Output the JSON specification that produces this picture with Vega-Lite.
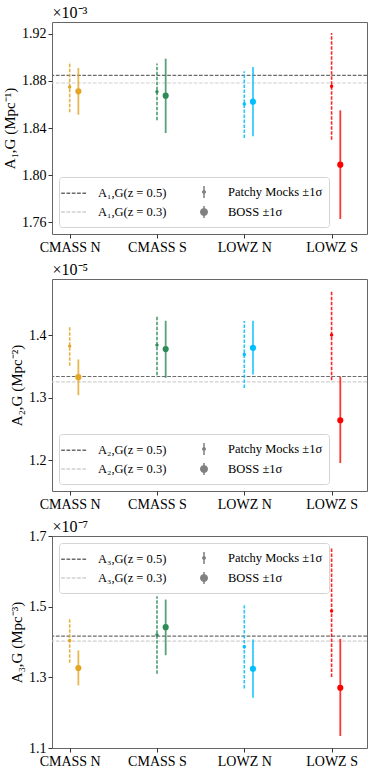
{
  "$schema": "https://vega.github.io/schema/vega-lite/v6.json",
  "padding": {"left": 2, "top": 3, "right": 5, "bottom": 0},
  "spacing": 5,
  "datasets": {
    "errs": [
      {"panel": 1, "region": "CMASS N", "kind": "mock", "value": 1.8749, "lo": 1.8533, "hi": 1.8962},
      {"panel": 1, "region": "CMASS N", "kind": "boss", "value": 1.8712, "lo": 1.8513, "hi": 1.8911},
      {"panel": 1, "region": "CMASS S", "kind": "mock", "value": 1.8709, "lo": 1.8465, "hi": 1.8948},
      {"panel": 1, "region": "CMASS S", "kind": "boss", "value": 1.8675, "lo": 1.8357, "hi": 1.899},
      {"panel": 1, "region": "LOWZ N", "kind": "mock", "value": 1.8604, "lo": 1.8315, "hi": 1.8882},
      {"panel": 1, "region": "LOWZ N", "kind": "boss", "value": 1.8624, "lo": 1.8329, "hi": 1.8919},
      {"panel": 1, "region": "LOWZ S", "kind": "mock", "value": 1.8755, "lo": 1.8301, "hi": 1.9209},
      {"panel": 1, "region": "LOWZ S", "kind": "boss", "value": 1.8088, "lo": 1.7626, "hi": 1.855},
      {"panel": 2, "region": "CMASS N", "kind": "mock", "value": 1.3824, "lo": 1.3509, "hi": 1.4133},
      {"panel": 2, "region": "CMASS N", "kind": "boss", "value": 1.3328, "lo": 1.304, "hi": 1.3611},
      {"panel": 2, "region": "CMASS S", "kind": "mock", "value": 1.384, "lo": 1.336, "hi": 1.4304},
      {"panel": 2, "region": "CMASS S", "kind": "boss", "value": 1.3776, "lo": 1.3317, "hi": 1.4229},
      {"panel": 2, "region": "LOWZ N", "kind": "mock", "value": 1.369, "lo": 1.3157, "hi": 1.4224},
      {"panel": 2, "region": "LOWZ N", "kind": "boss", "value": 1.3797, "lo": 1.337, "hi": 1.4229},
      {"panel": 2, "region": "LOWZ S", "kind": "mock", "value": 1.4, "lo": 1.328, "hi": 1.4693},
      {"panel": 2, "region": "LOWZ S", "kind": "boss", "value": 1.264, "lo": 1.1957, "hi": 1.3333},
      {"panel": 3, "region": "CMASS N", "kind": "mock", "value": 1.4042, "lo": 1.3412, "hi": 1.4664},
      {"panel": 3, "region": "CMASS N", "kind": "boss", "value": 1.3261, "lo": 1.2772, "hi": 1.376},
      {"panel": 3, "region": "CMASS S", "kind": "mock", "value": 1.4202, "lo": 1.3101, "hi": 1.5294},
      {"panel": 3, "region": "CMASS S", "kind": "boss", "value": 1.4419, "lo": 1.3628, "hi": 1.52},
      {"panel": 3, "region": "LOWZ N", "kind": "mock", "value": 1.3864, "lo": 1.2687, "hi": 1.504},
      {"panel": 3, "region": "LOWZ N", "kind": "boss", "value": 1.3242, "lo": 1.2424, "hi": 1.4071},
      {"panel": 3, "region": "LOWZ S", "kind": "mock", "value": 1.488, "lo": 1.3007, "hi": 1.6678},
      {"panel": 3, "region": "LOWZ S", "kind": "boss", "value": 1.2706, "lo": 1.1341, "hi": 1.4089}
    ],
    "zlines": [
      {"panel": 1, "z": "0.5", "value": 1.8848},
      {"panel": 1, "z": "0.3", "value": 1.8783},
      {"panel": 2, "z": "0.5", "value": 1.3339},
      {"panel": 2, "z": "0.3", "value": 1.3253},
      {"panel": 3, "z": "0.5", "value": 1.4165},
      {"panel": 3, "z": "0.3", "value": 1.4024}
    ],
    "legend": [
      {"panel": 1, "leg": "A₁,G(z = 0.5)"},
      {"panel": 1, "leg": "A₁,G(z = 0.3)"},
      {"panel": 1, "leg": "Patchy Mocks ±1σ"},
      {"panel": 1, "leg": "BOSS ±1σ"},
      {"panel": 2, "leg": "A₂,G(z = 0.5)"},
      {"panel": 2, "leg": "A₂,G(z = 0.3)"},
      {"panel": 2, "leg": "Patchy Mocks ±1σ"},
      {"panel": 2, "leg": "BOSS ±1σ"},
      {"panel": 3, "leg": "A₃,G(z = 0.5)"},
      {"panel": 3, "leg": "A₃,G(z = 0.3)"},
      {"panel": 3, "leg": "Patchy Mocks ±1σ"},
      {"panel": 3, "leg": "BOSS ±1σ"}
    ]
  },
  "vconcat": [
    {
      "width": 315, "height": 212,
      "resolve": {"axis": {"x": "independent"}},
      "layer": [
        {"data": {"name": "zlines"}, "transform": [{"filter": "datum.panel == 1 && datum.z == '0.5'"}],
         "mark": {"type": "rule", "color": "#6b6b6b", "strokeDash": [3.7, 1.6], "strokeWidth": 1.1},
         "encoding": {"y": {"field": "value", "type": "quantitative", "title": "A₁,G (Mpc⁻¹)",
           "scale": {"domain": [1.7498, 1.9302], "nice": false, "zero": false},
           "axis": {"values": [1.76, 1.8, 1.84, 1.88, 1.92], "format": ".2f"}}}},
        {"data": {"name": "zlines"}, "transform": [{"filter": "datum.panel == 1 && datum.z == '0.3'"}],
         "mark": {"type": "rule", "color": "#cfcfcf", "strokeDash": [3.7, 1.6], "strokeWidth": 1.1},
         "encoding": {"y": {"field": "value", "type": "quantitative", "title": "A₁,G (Mpc⁻¹)"}}},
        {"data": {"name": "errs"}, "transform": [{"filter": "datum.panel == 1 && datum.kind == 'mock'"}],
         "mark": {"type": "rule", "strokeDash": [3.5, 1.5], "strokeWidth": 1.6, "opacity": 0.85},
         "encoding": {
           "x": {"field": "region", "type": "nominal", "sort": null, "scale": {"type": "point", "padding": 0.304, "align": 0.333}, "axis": {"title": null, "labelAngle": 0}},
           "y": {"field": "lo", "type": "quantitative", "title": "A₁,G (Mpc⁻¹)"}, "y2": {"field": "hi"},
           "color": {"field": "region", "type": "nominal", "scale": {"domain": ["CMASS N", "CMASS S", "LOWZ N", "LOWZ S"], "range": ["#E2A624", "#2E8B57", "#00BFFF", "#FF0000"]}, "legend": null}}},
        {"data": {"name": "errs"}, "transform": [{"filter": "datum.panel == 1 && datum.kind == 'mock'"}],
         "mark": {"type": "point", "filled": true, "size": 12, "opacity": 1},
         "encoding": {"x": {"field": "region", "type": "nominal", "sort": null, "axis": null},
           "y": {"field": "value", "type": "quantitative", "title": "A₁,G (Mpc⁻¹)"},
           "color": {"field": "region", "type": "nominal", "legend": null}}},
        {"data": {"name": "errs"}, "transform": [{"filter": "datum.panel == 1 && datum.kind == 'boss'"}],
         "mark": {"type": "rule", "strokeWidth": 1.8, "opacity": 0.8, "xOffset": 8.7},
         "encoding": {"x": {"field": "region", "type": "nominal", "sort": null, "axis": null},
           "y": {"field": "lo", "type": "quantitative", "title": "A₁,G (Mpc⁻¹)"}, "y2": {"field": "hi"},
           "color": {"field": "region", "type": "nominal", "legend": null}}},
        {"data": {"name": "errs"}, "transform": [{"filter": "datum.panel == 1 && datum.kind == 'boss'"}],
         "mark": {"type": "point", "filled": true, "size": 38, "opacity": 1, "xOffset": 8.7},
         "encoding": {"x": {"field": "region", "type": "nominal", "sort": null, "axis": {"orient": "top", "title": "×10⁻³", "labels": false, "ticks": false, "domain": false, "titleAnchor": "start", "titleAlign": "left", "titlePadding": 2, "titleFontSize": 16}},
           "y": {"field": "value", "type": "quantitative", "title": "A₁,G (Mpc⁻¹)"},
           "color": {"field": "region", "type": "nominal", "legend": null}}},
        {"data": {"name": "legend"}, "transform": [{"filter": "datum.panel == 1"}],
         "mark": {"type": "point", "filled": true, "opacity": 0, "strokeWidth": 1.5},
         "encoding": {
           "fill": {"field": "leg", "type": "nominal", "scale": {"domain": ["A₁,G(z = 0.5)", "A₁,G(z = 0.3)", "Patchy Mocks ±1σ", "BOSS ±1σ"], "range": ["#6b6b6b", "#cfcfcf", "#808080", "#808080"]}, "legend": {"orient": "bottom-left", "title": null}},
           "stroke": {"field": "leg", "type": "nominal", "scale": {"domain": ["A₁,G(z = 0.5)", "A₁,G(z = 0.3)", "Patchy Mocks ±1σ", "BOSS ±1σ"], "range": ["#6b6b6b", "#cfcfcf", "#808080", "#808080"]}, "legend": {"orient": "bottom-left", "title": null}},
           "shape": {"field": "leg", "type": "nominal", "scale": {"domain": ["A₁,G(z = 0.5)", "A₁,G(z = 0.3)", "Patchy Mocks ±1σ", "BOSS ±1σ"], "range": ["M-1.6,0H1.6", "M-1.6,0H1.6", "M0,-0.75V0.75M-0.15,0A0.15,0.15 0 1,0 0.15,0A0.15,0.15 0 1,0 -0.15,0", "M0,-0.75V0.75M-0.4,0A0.4,0.4 0 1,0 0.4,0A0.4,0.4 0 1,0 -0.4,0"]}, "legend": {"orient": "bottom-left", "title": null}},
           "strokeDash": {"field": "leg", "type": "nominal", "scale": {"domain": ["A₁,G(z = 0.5)", "A₁,G(z = 0.3)", "Patchy Mocks ±1σ", "BOSS ±1σ"], "range": [[3.7, 1.6], [3.7, 1.6], [1, 0], [1, 0]]}, "legend": {"orient": "bottom-left", "title": null}}}}
      ]
    },
    {
      "width": 315, "height": 212,
      "resolve": {"axis": {"x": "independent"}},
      "layer": [
        {"data": {"name": "zlines"}, "transform": [{"filter": "datum.panel == 2 && datum.z == '0.5'"}],
         "mark": {"type": "rule", "color": "#6b6b6b", "strokeDash": [3.7, 1.6], "strokeWidth": 1.1},
         "encoding": {"y": {"field": "value", "type": "quantitative", "title": "A₂,G (Mpc⁻²)",
           "scale": {"domain": [1.151, 1.4896], "nice": false, "zero": false},
           "axis": {"values": [1.2, 1.3, 1.4], "format": ".1f"}}}},
        {"data": {"name": "zlines"}, "transform": [{"filter": "datum.panel == 2 && datum.z == '0.3'"}],
         "mark": {"type": "rule", "color": "#cfcfcf", "strokeDash": [3.7, 1.6], "strokeWidth": 1.1},
         "encoding": {"y": {"field": "value", "type": "quantitative", "title": "A₂,G (Mpc⁻²)"}}},
        {"data": {"name": "errs"}, "transform": [{"filter": "datum.panel == 2 && datum.kind == 'mock'"}],
         "mark": {"type": "rule", "strokeDash": [3.5, 1.5], "strokeWidth": 1.6, "opacity": 0.85},
         "encoding": {
           "x": {"field": "region", "type": "nominal", "sort": null, "scale": {"type": "point", "padding": 0.304, "align": 0.333}, "axis": {"title": null, "labelAngle": 0}},
           "y": {"field": "lo", "type": "quantitative", "title": "A₂,G (Mpc⁻²)"}, "y2": {"field": "hi"},
           "color": {"field": "region", "type": "nominal", "scale": {"domain": ["CMASS N", "CMASS S", "LOWZ N", "LOWZ S"], "range": ["#E2A624", "#2E8B57", "#00BFFF", "#FF0000"]}, "legend": null}}},
        {"data": {"name": "errs"}, "transform": [{"filter": "datum.panel == 2 && datum.kind == 'mock'"}],
         "mark": {"type": "point", "filled": true, "size": 12, "opacity": 1},
         "encoding": {"x": {"field": "region", "type": "nominal", "sort": null, "axis": null},
           "y": {"field": "value", "type": "quantitative", "title": "A₂,G (Mpc⁻²)"},
           "color": {"field": "region", "type": "nominal", "legend": null}}},
        {"data": {"name": "errs"}, "transform": [{"filter": "datum.panel == 2 && datum.kind == 'boss'"}],
         "mark": {"type": "rule", "strokeWidth": 1.8, "opacity": 0.8, "xOffset": 8.7},
         "encoding": {"x": {"field": "region", "type": "nominal", "sort": null, "axis": null},
           "y": {"field": "lo", "type": "quantitative", "title": "A₂,G (Mpc⁻²)"}, "y2": {"field": "hi"},
           "color": {"field": "region", "type": "nominal", "legend": null}}},
        {"data": {"name": "errs"}, "transform": [{"filter": "datum.panel == 2 && datum.kind == 'boss'"}],
         "mark": {"type": "point", "filled": true, "size": 38, "opacity": 1, "xOffset": 8.7},
         "encoding": {"x": {"field": "region", "type": "nominal", "sort": null, "axis": {"orient": "top", "title": "×10⁻⁵", "labels": false, "ticks": false, "domain": false, "titleAnchor": "start", "titleAlign": "left", "titlePadding": 2, "titleFontSize": 16}},
           "y": {"field": "value", "type": "quantitative", "title": "A₂,G (Mpc⁻²)"},
           "color": {"field": "region", "type": "nominal", "legend": null}}},
        {"data": {"name": "legend"}, "transform": [{"filter": "datum.panel == 2"}],
         "mark": {"type": "point", "filled": true, "opacity": 0, "strokeWidth": 1.5},
         "encoding": {
           "fill": {"field": "leg", "type": "nominal", "scale": {"domain": ["A₂,G(z = 0.5)", "A₂,G(z = 0.3)", "Patchy Mocks ±1σ", "BOSS ±1σ"], "range": ["#6b6b6b", "#cfcfcf", "#808080", "#808080"]}, "legend": {"orient": "bottom-left", "title": null}},
           "stroke": {"field": "leg", "type": "nominal", "scale": {"domain": ["A₂,G(z = 0.5)", "A₂,G(z = 0.3)", "Patchy Mocks ±1σ", "BOSS ±1σ"], "range": ["#6b6b6b", "#cfcfcf", "#808080", "#808080"]}, "legend": {"orient": "bottom-left", "title": null}},
           "shape": {"field": "leg", "type": "nominal", "scale": {"domain": ["A₂,G(z = 0.5)", "A₂,G(z = 0.3)", "Patchy Mocks ±1σ", "BOSS ±1σ"], "range": ["M-1.6,0H1.6", "M-1.6,0H1.6", "M0,-0.75V0.75M-0.15,0A0.15,0.15 0 1,0 0.15,0A0.15,0.15 0 1,0 -0.15,0", "M0,-0.75V0.75M-0.4,0A0.4,0.4 0 1,0 0.4,0A0.4,0.4 0 1,0 -0.4,0"]}, "legend": {"orient": "bottom-left", "title": null}},
           "strokeDash": {"field": "leg", "type": "nominal", "scale": {"domain": ["A₂,G(z = 0.5)", "A₂,G(z = 0.3)", "Patchy Mocks ±1σ", "BOSS ±1σ"], "range": [[3.7, 1.6], [3.7, 1.6], [1, 0], [1, 0]]}, "legend": {"orient": "bottom-left", "title": null}}}}
      ]
    },
    {
      "width": 315, "height": 212,
      "resolve": {"axis": {"x": "independent"}},
      "layer": [
        {"data": {"name": "zlines"}, "transform": [{"filter": "datum.panel == 3 && datum.z == '0.5'"}],
         "mark": {"type": "rule", "color": "#6b6b6b", "strokeDash": [3.7, 1.6], "strokeWidth": 1.1},
         "encoding": {"y": {"field": "value", "type": "quantitative", "title": "A₃,G (Mpc⁻³)",
           "scale": {"domain": [1.1, 1.7], "nice": false, "zero": false},
           "axis": {"values": [1.1, 1.2, 1.3, 1.4, 1.5, 1.6, 1.7], "format": ".1f"}}}},
        {"data": {"name": "zlines"}, "transform": [{"filter": "datum.panel == 3 && datum.z == '0.3'"}],
         "mark": {"type": "rule", "color": "#cfcfcf", "strokeDash": [3.7, 1.6], "strokeWidth": 1.1},
         "encoding": {"y": {"field": "value", "type": "quantitative", "title": "A₃,G (Mpc⁻³)"}}},
        {"data": {"name": "errs"}, "transform": [{"filter": "datum.panel == 3 && datum.kind == 'mock'"}],
         "mark": {"type": "rule", "strokeDash": [3.5, 1.5], "strokeWidth": 1.6, "opacity": 0.85},
         "encoding": {
           "x": {"field": "region", "type": "nominal", "sort": null, "scale": {"type": "point", "padding": 0.304, "align": 0.333}, "axis": {"title": null, "labelAngle": 0}},
           "y": {"field": "lo", "type": "quantitative", "title": "A₃,G (Mpc⁻³)"}, "y2": {"field": "hi"},
           "color": {"field": "region", "type": "nominal", "scale": {"domain": ["CMASS N", "CMASS S", "LOWZ N", "LOWZ S"], "range": ["#E2A624", "#2E8B57", "#00BFFF", "#FF0000"]}, "legend": null}}},
        {"data": {"name": "errs"}, "transform": [{"filter": "datum.panel == 3 && datum.kind == 'mock'"}],
         "mark": {"type": "point", "filled": true, "size": 12, "opacity": 1},
         "encoding": {"x": {"field": "region", "type": "nominal", "sort": null, "axis": null},
           "y": {"field": "value", "type": "quantitative", "title": "A₃,G (Mpc⁻³)"},
           "color": {"field": "region", "type": "nominal", "legend": null}}},
        {"data": {"name": "errs"}, "transform": [{"filter": "datum.panel == 3 && datum.kind == 'boss'"}],
         "mark": {"type": "rule", "strokeWidth": 1.8, "opacity": 0.8, "xOffset": 8.7},
         "encoding": {"x": {"field": "region", "type": "nominal", "sort": null, "axis": null},
           "y": {"field": "lo", "type": "quantitative", "title": "A₃,G (Mpc⁻³)"}, "y2": {"field": "hi"},
           "color": {"field": "region", "type": "nominal", "legend": null}}},
        {"data": {"name": "errs"}, "transform": [{"filter": "datum.panel == 3 && datum.kind == 'boss'"}],
         "mark": {"type": "point", "filled": true, "size": 38, "opacity": 1, "xOffset": 8.7},
         "encoding": {"x": {"field": "region", "type": "nominal", "sort": null, "axis": {"orient": "top", "title": "×10⁻⁷", "labels": false, "ticks": false, "domain": false, "titleAnchor": "start", "titleAlign": "left", "titlePadding": 2, "titleFontSize": 16}},
           "y": {"field": "value", "type": "quantitative", "title": "A₃,G (Mpc⁻³)"},
           "color": {"field": "region", "type": "nominal", "legend": null}}},
        {"data": {"name": "legend"}, "transform": [{"filter": "datum.panel == 3"}],
         "mark": {"type": "point", "filled": true, "opacity": 0, "strokeWidth": 1.5},
         "encoding": {
           "fill": {"field": "leg", "type": "nominal", "scale": {"domain": ["A₃,G(z = 0.5)", "A₃,G(z = 0.3)", "Patchy Mocks ±1σ", "BOSS ±1σ"], "range": ["#6b6b6b", "#cfcfcf", "#808080", "#808080"]}, "legend": {"orient": "top-left", "title": null}},
           "stroke": {"field": "leg", "type": "nominal", "scale": {"domain": ["A₃,G(z = 0.5)", "A₃,G(z = 0.3)", "Patchy Mocks ±1σ", "BOSS ±1σ"], "range": ["#6b6b6b", "#cfcfcf", "#808080", "#808080"]}, "legend": {"orient": "top-left", "title": null}},
           "shape": {"field": "leg", "type": "nominal", "scale": {"domain": ["A₃,G(z = 0.5)", "A₃,G(z = 0.3)", "Patchy Mocks ±1σ", "BOSS ±1σ"], "range": ["M-1.6,0H1.6", "M-1.6,0H1.6", "M0,-0.75V0.75M-0.15,0A0.15,0.15 0 1,0 0.15,0A0.15,0.15 0 1,0 -0.15,0", "M0,-0.75V0.75M-0.4,0A0.4,0.4 0 1,0 0.4,0A0.4,0.4 0 1,0 -0.4,0"]}, "legend": {"orient": "top-left", "title": null}},
           "strokeDash": {"field": "leg", "type": "nominal", "scale": {"domain": ["A₃,G(z = 0.5)", "A₃,G(z = 0.3)", "Patchy Mocks ±1σ", "BOSS ±1σ"], "range": [[3.7, 1.6], [3.7, 1.6], [1, 0], [1, 0]]}, "legend": {"orient": "top-left", "title": null}}}}
      ]
    }
  ],
  "resolve": {"scale": {"color": "independent", "fill": "independent", "stroke": "independent", "shape": "independent", "strokeDash": "independent", "x": "independent", "y": "independent"}},
  "config": {
    "font": "Liberation Serif",
    "background": "white",
    "view": {"stroke": "#666666", "strokeWidth": 1},
    "axis": {"domain": false, "grid": false, "labelFont": "Liberation Serif", "labelFontSize": 14, "labelColor": "#000000", "tickColor": "#333333", "tickSize": 4, "labelPadding": 2, "titleFont": "Liberation Serif", "titleFontSize": 15, "titleFontWeight": "normal", "titleColor": "#000000"},
    "legend": {"labelFont": "Liberation Serif", "labelFontSize": 12.5, "labelColor": "#000000", "columns": 2, "columnPadding": 28, "rowPadding": 2, "symbolSize": 256, "symbolStrokeWidth": 1.5, "symbolOpacity": 1, "labelOffset": 15, "padding": 6, "offset": 7, "strokeColor": "#d4d4d4", "fillColor": "white", "cornerRadius": 3}
  }
}
